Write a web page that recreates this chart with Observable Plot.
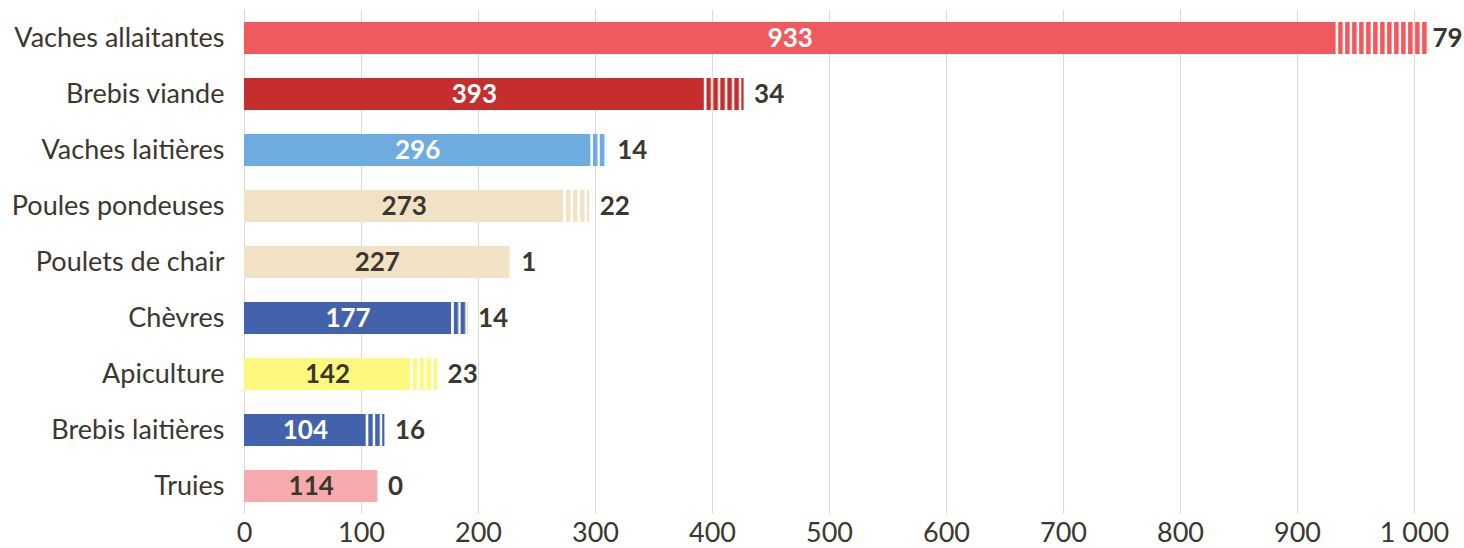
<!DOCTYPE html>
<html>
<head>
<meta charset="utf-8">
<script src="https://cdn.jsdelivr.net/npm/d3@7"></script>
<script src="https://cdn.jsdelivr.net/npm/@observablehq/plot@0.6"></script>
<style>
  html, body { margin: 0; padding: 0; background: #fff; }
</style>
</head>
<body>
<div id="chart"></div>
<script>
const categories = ["Vaches allaitantes", "Brebis viande", "Vaches laitières", "Poules pondeuses", "Poulets de chair", "Chèvres", "Apiculture", "Brebis laitières", "Truies"];
const mainValues = [933, 393, 296, 273, 227, 177, 142, 104, 114];
const extraValues = [79, 34, 14, 22, 1, 14, 23, 16, 0];
const barColors = ["#f05a5e", "#c52e2d", "#6eabdf", "#f1e1c5", "#f1e1c5", "#4262ab", "#fdf97e", "#4262ab", "#f7aaad"];
const insideLabelColors = ["#ffffff", "#ffffff", "#ffffff", "#3b372f", "#3b372f", "#ffffff", "#3b372f", "#ffffff", "#3b372f"];
const xTicks = [0, 100, 200, 300, 400, 500, 600, 700, 800, 900, 1000];

const textColor = "#3b372f";
const fr = d3.formatLocale({decimal: ",", thousands: " ", grouping: [3], currency: ["", " €"]});
const fmt = fr.format(",d");

const data = categories.map((c, i) => ({
  cat: c, main: mainValues[i], extra: extraValues[i],
  color: barColors[i], labelColor: insideLabelColors[i], idx: i
}));

const gapInset = 2.5;
const extraLabel = (rows, dx) => Plot.text(rows, {
  y: "cat", x: d => d.main + d.extra, text: d => fmt(d.extra),
  fill: textColor, fontWeight: 700, fontSize: 26, textAnchor: "start", dx
});

const chart = Plot.plot({
  width: 1464,
  height: 548,
  marginLeft: 244,
  marginRight: 50,
  marginTop: 10,
  marginBottom: 34,
  style: {fontFamily: "Lato, 'Open Sans', sans-serif", fontSize: "27px", color: textColor, background: "#fff"},
  color: {type: "identity"},
  x: {domain: [0, 1000], ticks: xTicks, tickFormat: fmt, label: null, tickSize: 0, tickPadding: 8},
  y: {domain: categories, paddingInner: 0.43, paddingOuter: 0.215, label: null, tickSize: 0, tickPadding: 20},
  marks: [
    Plot.gridX(xTicks, {stroke: "#d9d9d9", strokeOpacity: 1}),
    Plot.barX(data, {y: "cat", x1: 0, x2: "main", fill: "color"}),
    Plot.barX(data.filter(d => d.extra > 0), {
      y: "cat", x1: "main", x2: d => d.main + d.extra,
      fill: d => `url(#hatch-${d.idx})`, insetLeft: gapInset
    }),
    Plot.text(data, {y: "cat", x: d => d.main / 2, text: d => fmt(d.main), fill: "labelColor", fontWeight: 700, fontSize: 26}),
    extraLabel(data.slice(0, 1), 4),
    extraLabel(data.slice(1), 10)
  ]
});

// hatch patterns aligned to each bar's start using the library's x scale
const xs = chart.scale("x");
const ns = "http://www.w3.org/2000/svg";
const defs = document.createElementNS(ns, "defs");
data.forEach(d => {
  const p = document.createElementNS(ns, "pattern");
  p.setAttribute("id", `hatch-${d.idx}`);
  p.setAttribute("patternUnits", "userSpaceOnUse");
  p.setAttribute("width", "7");
  p.setAttribute("height", "20");
  p.setAttribute("x", String(xs.apply(d.main) + gapInset));
  const r = document.createElementNS(ns, "rect");
  r.setAttribute("x", "0");
  r.setAttribute("y", "0");
  r.setAttribute("width", "4.6");
  r.setAttribute("height", "20");
  r.setAttribute("fill", d.color);
  p.appendChild(r);
  defs.appendChild(p);
});
chart.insertBefore(defs, chart.firstChild);

document.getElementById("chart").appendChild(chart);
</script>
</body>
</html>
